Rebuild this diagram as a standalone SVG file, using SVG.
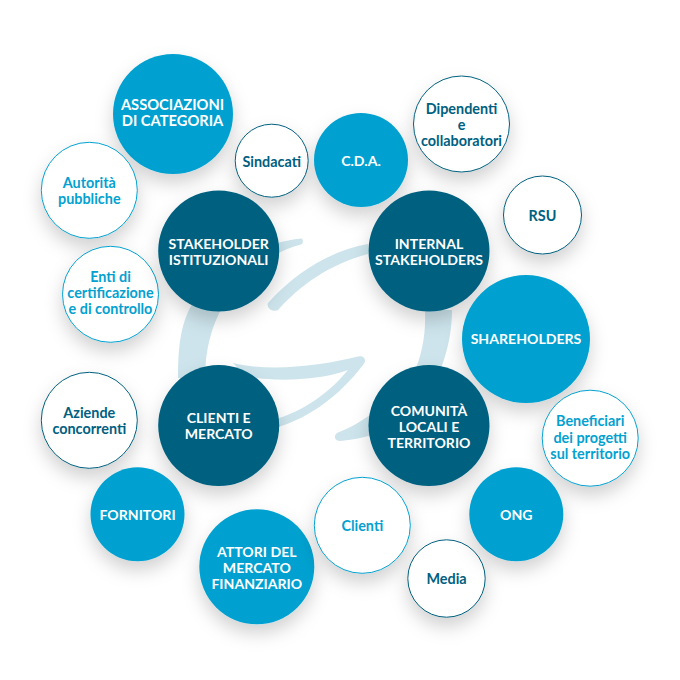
<svg xmlns="http://www.w3.org/2000/svg" width="680" height="680" viewBox="0 0 680 680">
<defs>
<filter id="sh" x="-40%" y="-40%" width="180%" height="190%"><feDropShadow dx="0" dy="9" stdDeviation="9" flood-color="#000" flood-opacity="0.18"/></filter>
</defs>
<style>
.dark{fill:#00607f;filter:url(#sh)}
.mid{fill:#03a1d0;filter:url(#sh)}
.wd{fill:#fff;stroke:#00607f;stroke-width:1;filter:url(#sh)}
.wl{fill:#fff;stroke:#03a1d0;stroke-width:1;filter:url(#sh)}
text{font-family:"Lato","Liberation Sans",sans-serif;font-weight:700;font-size:14.4px;text-anchor:middle}
.tw{fill:#fff;font-size:14.1px}
.td{fill:#00607f}
.tl{fill:#03a1d0}
.logo{fill:#cde4ec}
</style>
<rect width="680" height="680" fill="#fff"/>
<g id="logo">
<path class="logo" d="M301 238.500C303.500 238.500 303.500 243.500 301 244.500C275 251 245 270 222 308C212 325 205 350 205 378L178 378C178 350 180 330 188 312C205 278 245 245 301 238.500Z"/>
<path class="logo" d="M368 244C330 251 296 272 268 303C266 307 272 313 278 310C300 285 330 264 368 254Z"/>
<path class="logo" d="M233 363C270 372 320 366 358 356.500C365 355 367 361 363 365C340 395 310 418 275 428L279 418C305 410 330 392 348 370C320 381 270 382 246 376Z"/>
<path class="logo" d="M425 310L452 310C452 330 448 350 441 368L416 368C423 350 426 330 425 310Z"/>
<path class="logo" d="M370 415C360 422 350 428 337 433C333 436 335 441 340 441C352 440 362 438 372 435Z"/>
</g>
<g id="connectors"></g>
<g id="associazioni"><circle class="mid" cx="173" cy="114" r="60"/><text class="tw" x="172.500" y="110" style="font-size:14.7px">ASSOCIAZIONI</text><text class="tw" x="172.500" y="125.700" style="font-size:14.7px">DI CATEGORIA</text></g>
<g id="sindacati"><circle class="wd" cx="271.700" cy="160.700" r="36.500"/><text class="td" x="271.700" y="166.500">Sindacati</text></g>
<g id="cda"><circle class="mid" cx="361" cy="160" r="47"/><text class="tw" x="361" y="165.500">C.D.A.</text></g>
<g id="dipendenti"><circle class="wd" cx="461.500" cy="124" r="48"/><text class="td" x="461.500" y="114">Dipendenti</text><text class="td" x="461.500" y="129.500">e</text><text class="td" x="461.500" y="145.500">collaboratori</text></g>
<g id="rsu"><circle class="wd" cx="542.500" cy="215" r="39"/><text class="td" x="542.500" y="220.500">RSU</text></g>
<g id="autorita"><circle class="wl" cx="89.300" cy="190.300" r="48"/><text class="tl" x="89.300" y="187.500">Autorità</text><text class="tl" x="89.300" y="203.500">pubbliche</text></g>
<g id="enti"><circle class="wl" cx="110.500" cy="294.300" r="48"/><text class="tl" x="110.500" y="281.700">Enti di</text><text class="tl" x="110.500" y="297.700">certificazione</text><text class="tl" x="110.500" y="314">e di controllo</text></g>
<g id="istituzionali"><circle class="dark" cx="218.700" cy="251" r="60.500"/><text class="tw" x="218.700" y="248.500">STAKEHOLDER</text><text class="tw" x="218.700" y="265">ISTITUZIONALI</text></g>
<g id="internal"><circle class="dark" cx="429" cy="251" r="60.500"/><text class="tw" x="429" y="248.500">INTERNAL</text><text class="tw" x="429" y="265">STAKEHOLDERS</text></g>
<g id="shareholders"><circle class="mid" cx="526" cy="339" r="64"/><text class="tw" x="526" y="344">SHAREHOLDERS</text></g>
<g id="beneficiari"><circle class="wl" cx="590.200" cy="438.200" r="48"/><text class="tl" x="590.200" y="426">Beneficiari</text><text class="tl" x="590.200" y="442.700">dei progetti</text><text class="tl" x="590.200" y="458.700">sul territorio</text></g>
<g id="comunita"><circle class="dark" cx="429" cy="425.500" r="60.500"/><text class="tw" x="429" y="415.500">COMUNITÀ</text><text class="tw" x="429" y="431.500">LOCALI E</text><text class="tw" x="429" y="447.700">TERRITORIO</text></g>
<g id="clienti-mercato"><circle class="dark" cx="218.700" cy="425.500" r="60.500"/><text class="tw" x="218.700" y="423.300">CLIENTI E</text><text class="tw" x="218.700" y="439.300">MERCATO</text></g>
<g id="aziende"><circle class="wd" cx="89.300" cy="420.300" r="48"/><text class="td" x="89.300" y="417.500">Aziende</text><text class="td" x="89.300" y="433.500">concorrenti</text></g>
<g id="fornitori"><circle class="mid" cx="137.500" cy="514.300" r="47"/><text class="tw" x="137.500" y="520">FORNITORI</text></g>
<g id="attori"><circle class="mid" cx="256.800" cy="566.800" r="57.500"/><text class="tw" x="256.800" y="556.700">ATTORI DEL</text><text class="tw" x="256.800" y="572.500">MERCATO</text><text class="tw" x="256.800" y="588.700">FINANZIARIO</text></g>
<g id="clienti"><circle class="wl" cx="362.300" cy="525.300" r="48"/><text class="tl" x="362.300" y="530.700">Clienti</text></g>
<g id="media"><circle class="wd" cx="446.500" cy="578.500" r="38.700"/><text class="td" x="446.500" y="584">Media</text></g>
<g id="ong"><circle class="mid" cx="516.300" cy="514.300" r="47"/><text class="tw" x="516.300" y="519.500">ONG</text></g>
</svg>
